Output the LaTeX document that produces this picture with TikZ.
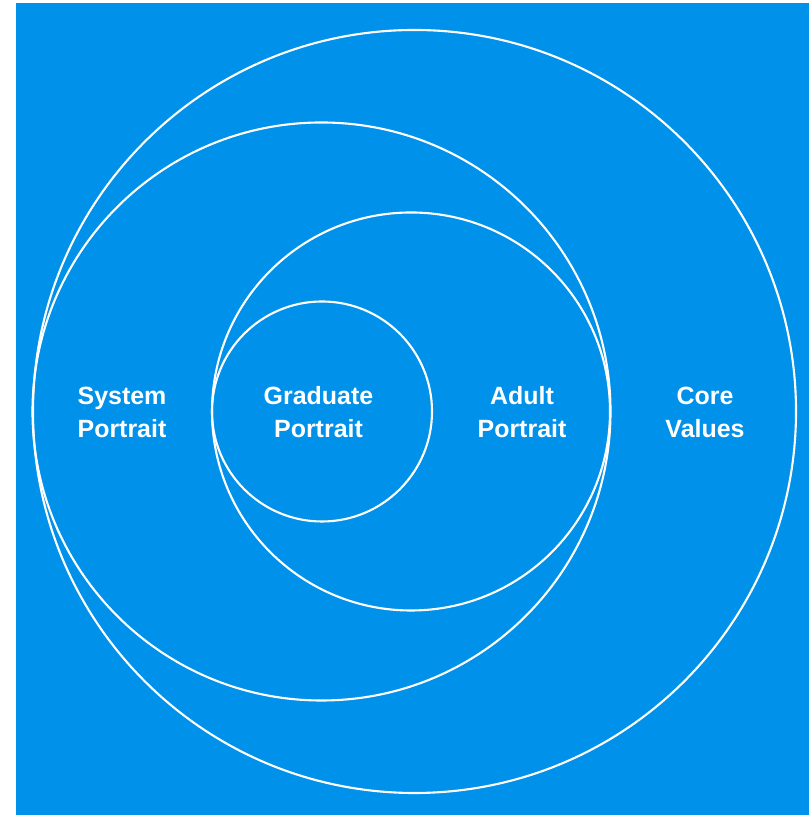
\documentclass[tikz,border=0pt]{standalone}
\usepackage{fontspec}
\setmainfont{Liberation Sans}
\definecolor{skyblue}{RGB}{0,145,234}
\tikzset{
  ring/.style={draw=white, line width=0.6pt},
  ringlabel/.style={text=white, align=center,
    font=\bfseries\fontsize{7.1}{9.4}\selectfont}
}
\begin{document}
\begin{tikzpicture}
    \useasboundingbox (0,0) rectangle (8.09,8.15);
    \fill[skyblue] (0.16,0) rectangle (8.09,8.12);

    \draw[ring] (4.145,4.035) circle (3.815);
    \draw[ring] (3.215,4.035) circle (2.89);
    \draw[ring] (4.11,4.035) circle (1.99);
    \draw[ring] (3.22,4.035) circle (1.10);

    \node[ringlabel] (system) at (1.22,4.03) {System\\Portrait};
    \node[ringlabel] (graduate) at (3.185,4.03) {Graduate\\Portrait};
    \node[ringlabel] (adult) at (5.22,4.03) {Adult\\Portrait};
    \node[ringlabel] (core) at (7.05,4.03) {Core\\Values};
  \end{tikzpicture}
\end{document}
